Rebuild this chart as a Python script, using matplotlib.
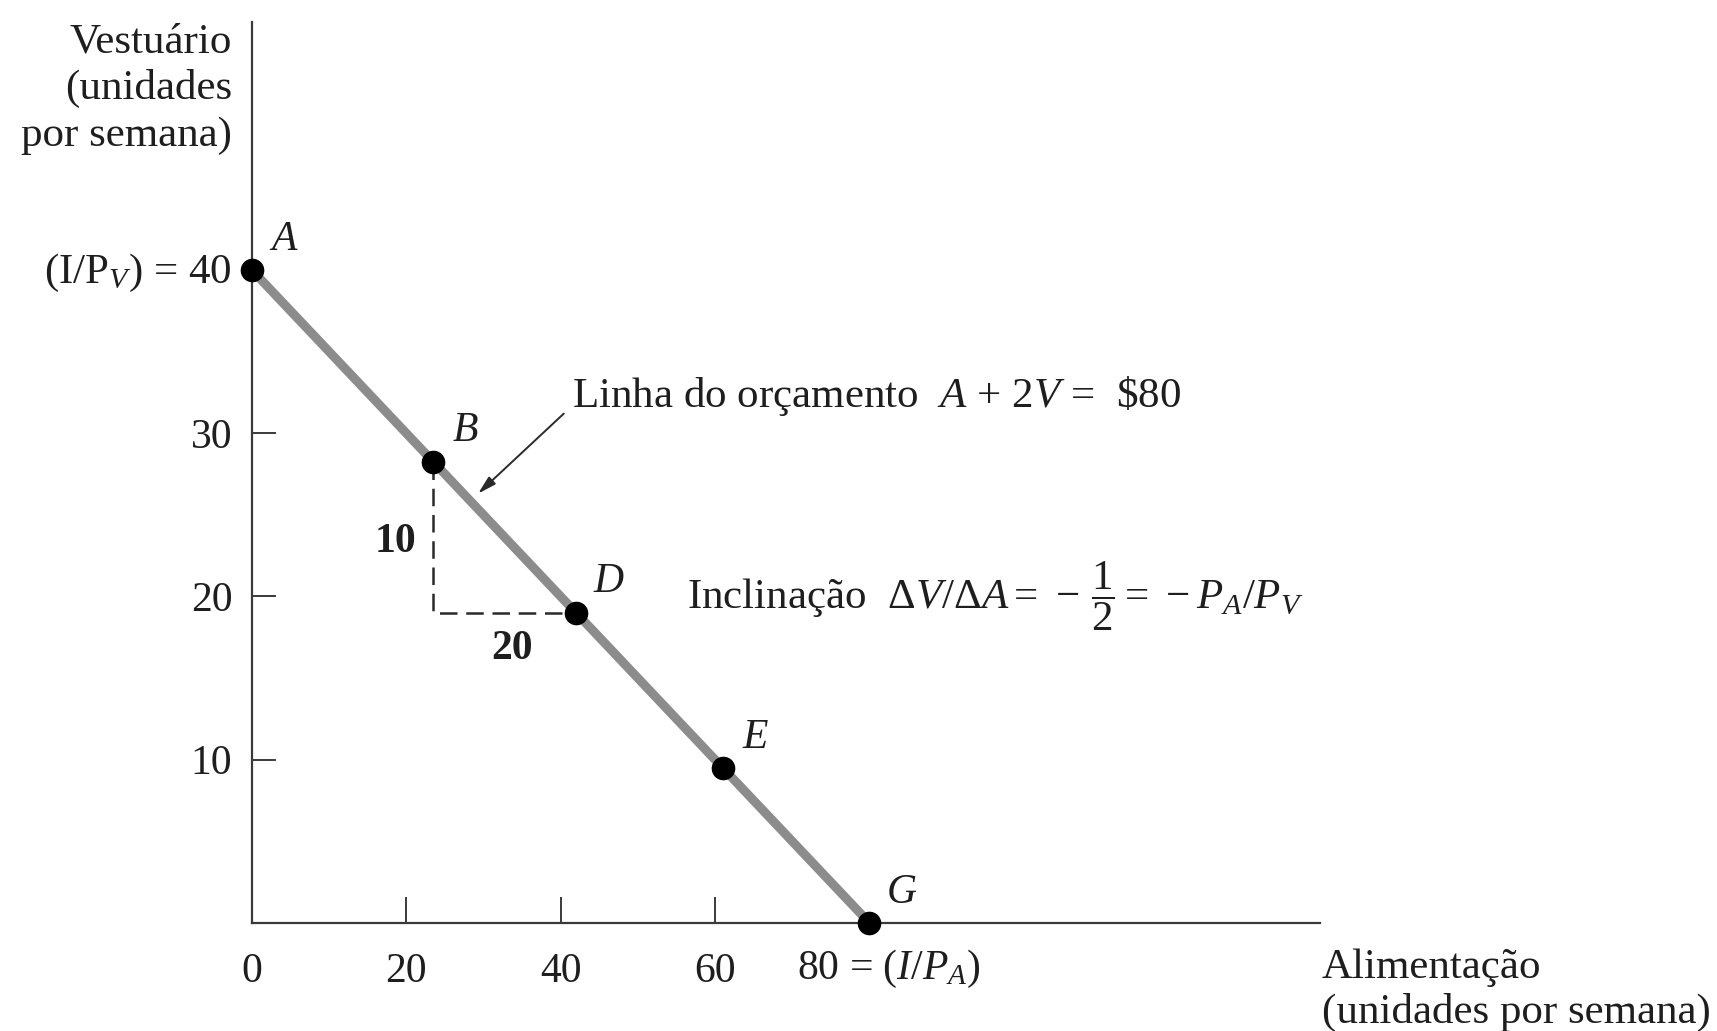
import matplotlib
matplotlib.use("Agg")
import matplotlib.pyplot as plt

# Budget line data: food (A) vs clothing (V), income $80, P_A = 1, P_V = 2
point_names = ["A", "B", "D", "E", "G"]
food = [0, 23.5, 42, 61, 80]
clothing = [40, 28.25, 19, 9.5, 0]

x_ticks = [0, 20, 40, 60]
x_tick_labels = ["0", "20", "40", "60"]
y_ticks = [10, 20, 30]
y_tick_labels = ["10", "20", "30"]

delta_v_label = "10"
delta_a_label = "20"

plt.rcParams["font.family"] = ["Liberation Serif", "DejaVu Serif"]
plt.rcParams["mathtext.fontset"] = "custom"
plt.rcParams["mathtext.rm"] = "Liberation Serif"
plt.rcParams["mathtext.it"] = "Liberation Serif:italic"
plt.rcParams["mathtext.bf"] = "Liberation Serif:bold"

TXT = "#1e1e1e"
FS = 31
FS_NUM = 30

fig = plt.figure(figsize=(17.17, 10.31), dpi=100)
ax = fig.add_axes([0.1467, 0.1048, 0.6218, 0.874])
ax.set_xlim(0, 138.3)
ax.set_ylim(0, 55.2)

for side in ("top", "right"):
    ax.spines[side].set_visible(False)
for side in ("left", "bottom"):
    ax.spines[side].set_color("#3a3a3a")
    ax.spines[side].set_linewidth(1.6)

ax.set_xticks(x_ticks)
ax.set_xticklabels(x_tick_labels)
ax.set_yticks(y_ticks)
ax.set_yticklabels(y_tick_labels)
ax.tick_params(axis="x", direction="in", length=19, width=1.4, color="#3a3a3a",
               labelsize=FS_NUM, labelcolor=TXT, pad=21)
ax.tick_params(axis="y", direction="in", length=17, width=1.4, color="#3a3a3a",
               labelsize=FS_NUM, labelcolor=TXT, pad=14)
ax.xaxis.get_major_ticks()[0].tick1line.set_visible(False)

# Budget line and consumption bundles
ax.plot(food, clothing, color="#8c8c8c", lw=6.5, solid_capstyle="butt", zorder=2,
        clip_on=False)
ax.plot(food, clothing, "o", color="black", ms=16, zorder=4, clip_on=False)
for name, fx, cy in zip(point_names, food, clothing):
    ax.annotate(name, xy=(fx, cy), xytext=(23, 22), textcoords="offset points",
                fontsize=FS_NUM, style="italic", color=TXT, ha="center", va="center")

# Slope triangle between B and D
bx, by = food[1], clothing[1]
dx, dy = food[2], clothing[2]
ax.plot([bx, bx, dx], [by, dy, dy], color="#2a2a2a", lw=1.8, ls=(0, (7, 3.5)),
        zorder=3)
ax.text(bx - 4.9, (by + dy) / 2 - 0.3, delta_v_label, fontsize=FS_NUM,
        fontweight="bold", color=TXT, ha="center", va="center")
ax.text((bx + dx) / 2 + 0.9, dy - 2.2, delta_a_label, fontsize=FS_NUM,
        fontweight="bold", color=TXT, ha="center", va="center")

# Annotations
ax.text(41.5, 32.3, "Linha do orçamento  $A$ + 2$V$ =  \\$80", fontsize=FS,
        color=TXT, ha="left", va="center")
ax.annotate("", xy=(29.3, 26.3), xytext=(40.4, 31.2),
            arrowprops=dict(arrowstyle="-|>,head_length=1.1,head_width=0.3",
                            lw=1.4, color="#2a2a2a", shrinkA=0, shrinkB=0))
ax.text(56.4, 20.0,
        r"Inclinação  $\Delta V/\Delta A =\, -\,\dfrac{1}{2} =\, -P_A/P_V$",
        fontsize=FS, color=TXT, ha="left", va="center")

# Intercept labels
ax.text(-2.6, 39.8, "(I/P$_V$) = 40", fontsize=FS, color=TXT, ha="right",
        va="center")
ax.text(70.6, -2.8, "80 = ($I/P_A$)", fontsize=FS_NUM, color=TXT, ha="left",
        va="center")

# Axis titles
ax.text(-2.6, 51.1, "Vestuário\n(unidades\npor semana)", fontsize=FS, color=TXT,
        ha="right", va="center", multialignment="right", linespacing=1.26)
ax.text(138.6, -4.1, "Alimentação\n(unidades por semana)", fontsize=FS, color=TXT,
        ha="left", va="center", multialignment="left", linespacing=1.2)

fig.savefig("out.png", dpi=100)
